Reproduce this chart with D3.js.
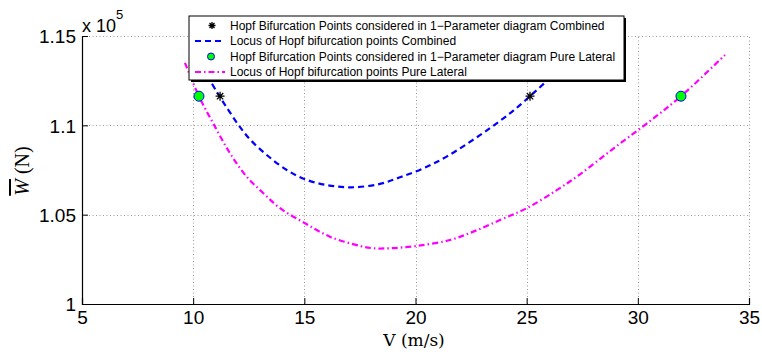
<!DOCTYPE html>
<html>
<head>
<meta charset="utf-8">
<script src="https://cdn.jsdelivr.net/npm/d3@7"></script>
<style>
  body { margin: 0; background: #fff; }
  svg { display: block; font-family: Arial, "Liberation Sans", Helvetica, sans-serif; }
</style>
</head>
<body>
<svg id="chart" width="762" height="352"></svg>
<script>
// Hopf locus, combined (V in m/s, W in N)
const blueV = [10.4, 11.06, 11.58, 12.11, 12.56, 13.31, 14.21, 15.03, 16.0, 17.1, 18.4, 19.3, 20.35, 21.4, 22.9, 23.8, 24.4, 25.15, 25.9, 26.6];
const blueW = [113300, 111880, 110860, 109900, 109210, 108340, 107500, 106980, 106660, 106530, 106720, 107090, 107590, 108250, 109450, 110250, 110820, 111630, 112480, 113300];

// Hopf locus, pure lateral
const magV = [9.63, 10.26, 10.9, 11.66, 12.41, 13.16, 13.91, 15.03, 16.15, 17.5, 18.09, 18.85, 20.05, 21.55, 22.6, 23.8, 25.0, 26.35, 27.4, 28.9, 30.4, 31.94, 33.92];
const magW = [113500, 111630, 110110, 108430, 107120, 106200, 105360, 104520, 103770, 103250, 103120, 103120, 103250, 103580, 104050, 104700, 105360, 106370, 107260, 108700, 110100, 111630, 113940];

// points used in 1-parameter diagrams
const starV = [11.21, 25.15];
const starW = [111630, 111630];
const dotV = [10.26, 31.94];
const dotW = [111630, 111630];

const xTicks = [5, 10, 15, 20, 25, 30, 35];
const yTicks = [100000, 105000, 110000, 115000];

const legendLabels = [
  "Hopf Bifurcation Points considered in 1\u2212Parameter diagram Combined",
  "Locus of Hopf bifurcation points Combined",
  "Hopf Bifurcation Points considered in 1\u2212Parameter diagram Pure Lateral",
  "Locus of Hopf bifurcation points Pure Lateral"
];

const svg = d3.select("#chart");
const margin = { top: 36, right: 13, bottom: 48, left: 82 };
const width = 762, height = 352;

const x = d3.scaleLinear().domain([5, 35]).range([margin.left, width - margin.right]);
const y = d3.scaleLinear().domain([100000, 115000]).range([height - margin.bottom, margin.top]);

// grid
const grid = svg.append("g")
  .attr("stroke", "#9a9a9a")
  .attr("stroke-width", 1)
  .attr("stroke-dasharray", "1,2.5");
grid.selectAll("line.gx")
  .data(xTicks.slice(1))
  .enter().append("line")
  .attr("x1", d => Math.round(x(d)) + 0.5).attr("x2", d => Math.round(x(d)) + 0.5)
  .attr("y1", y(100000)).attr("y2", y(115000));
grid.selectAll("line.gy")
  .data(yTicks.slice(1))
  .enter().append("line")
  .attr("y1", d => Math.round(y(d)) + 0.5).attr("y2", d => Math.round(y(d)) + 0.5)
  .attr("x1", x(5)).attr("x2", x(35));

// axes (MATLAB style, ticks inward, no box)
const xAxis = svg.append("g")
  .attr("transform", `translate(0,${y(100000)})`)
  .call(d3.axisBottom(x).tickValues(xTicks).tickSize(-6).tickPadding(7).tickFormat(d3.format("d")));
const yAxis = svg.append("g")
  .attr("transform", `translate(${x(5)},0)`)
  .call(d3.axisLeft(y).tickValues(yTicks).tickSize(-6).tickPadding(6).tickFormat(d => d3.format("")(+(d / 1e5).toFixed(2))));
[xAxis, yAxis].forEach(g => {
  g.select(".domain").attr("stroke", "#000").attr("stroke-width", 1.2);
  g.selectAll(".tick line").attr("stroke", "#000");
  g.selectAll(".tick text")
    .attr("fill", "#000")
    .style("font-size", "19px")
    .style("font-family", "Arial, 'Liberation Sans', sans-serif");
});
yAxis.selectAll(".tick text").attr("dy", "0.36em");

// exponent label
const expo = svg.append("text")
  .attr("x", x(5))
  .attr("y", 32)
  .attr("fill", "#000")
  .style("font-size", "18px");
expo.append("tspan").text("x 10");
expo.append("tspan").attr("dy", -13).style("font-size", "13px").text("5");

// axis labels (serif, like LaTeX)
svg.append("text")
  .attr("x", 414).attr("y", 346)
  .attr("text-anchor", "middle")
  .style("font-family", "'DejaVu Serif', 'Liberation Serif', serif")
  .style("font-size", "17px")
  .text("V (m/s)");

const yl = svg.append("text")
  .attr("transform", "translate(29,171) rotate(-90)")
  .attr("text-anchor", "middle")
  .style("font-family", "'Liberation Serif', serif")
  .style("font-size", "20px");
yl.append("tspan").style("font-style", "italic").style("text-decoration", "overline").text("W");
yl.append("tspan").text(" (N)");

// curves
const line = d3.line().x(d => x(d[0])).y(d => y(d[1])).curve(d3.curveCatmullRom);

svg.append("path")
  .datum(blueV.map((v, i) => [v, blueW[i]]))
  .attr("fill", "none")
  .attr("stroke", "#0000ff")
  .attr("stroke-width", 2.2)
  .attr("stroke-dasharray", "6,4")
  .attr("d", line);

svg.append("path")
  .datum(magV.map((v, i) => [v, magW[i]]))
  .attr("fill", "none")
  .attr("stroke", "#ff00ff")
  .attr("stroke-width", 2.2)
  .attr("stroke-dasharray", "6,3,1.5,3")
  .attr("d", line);

// markers
const star = (g, cx, cy, r) => {
  const p = [];
  for (let k = 0; k < 4; k++) {
    const a = k * Math.PI / 4;
    p.push(`M${cx - r * Math.cos(a)},${cy - r * Math.sin(a)}L${cx + r * Math.cos(a)},${cy + r * Math.sin(a)}`);
  }
  g.append("path").attr("d", p.join("")).attr("stroke", "#000").attr("stroke-width", 1.3).attr("fill", "none");
};
const starG = svg.append("g");
starV.forEach((v, i) => star(starG, x(v), y(starW[i]), 4.5));

svg.append("g").selectAll("circle")
  .data(dotV.map((v, i) => [v, dotW[i]]))
  .enter().append("circle")
  .attr("cx", d => x(d[0]))
  .attr("cy", d => y(d[1]))
  .attr("r", 5)
  .attr("fill", "#00ff00")
  .attr("stroke", "#0000ff")
  .attr("stroke-width", 1);

// legend
const lg = svg.append("g");
const lx = 189, ly = 16, lw = 435, lh = 64;
lg.append("rect").attr("x", lx + 2).attr("y", ly + 2).attr("width", lw).attr("height", lh).attr("fill", "#000");
lg.append("rect").attr("x", lx).attr("y", ly).attr("width", lw).attr("height", lh)
  .attr("fill", "#fff").attr("stroke", "#000").attr("stroke-width", 1);
const rows = [25.5, 41, 56.5, 72];
lg.selectAll("text")
  .data(legendLabels)
  .enter().append("text")
  .attr("x", 230)
  .attr("y", (d, i) => rows[i])
  .attr("dy", "0.35em")
  .attr("fill", "#000")
  .style("font-size", "12px")
  .text(d => d);
star(lg, 212, rows[0], 3.5);
lg.append("line").attr("x1", 195).attr("x2", 225).attr("y1", rows[1]).attr("y2", rows[1])
  .attr("stroke", "#0000ff").attr("stroke-width", 2.2).attr("stroke-dasharray", "6,4");
lg.append("circle").attr("cx", 211).attr("cy", rows[2]).attr("r", 3.5)
  .attr("fill", "#00ff00").attr("stroke", "#0000ff");
lg.append("line").attr("x1", 195).attr("x2", 225).attr("y1", rows[3]).attr("y2", rows[3])
  .attr("stroke", "#ff00ff").attr("stroke-width", 2.2).attr("stroke-dasharray", "6,3,1.5,3");
</script>
</body>
</html>
